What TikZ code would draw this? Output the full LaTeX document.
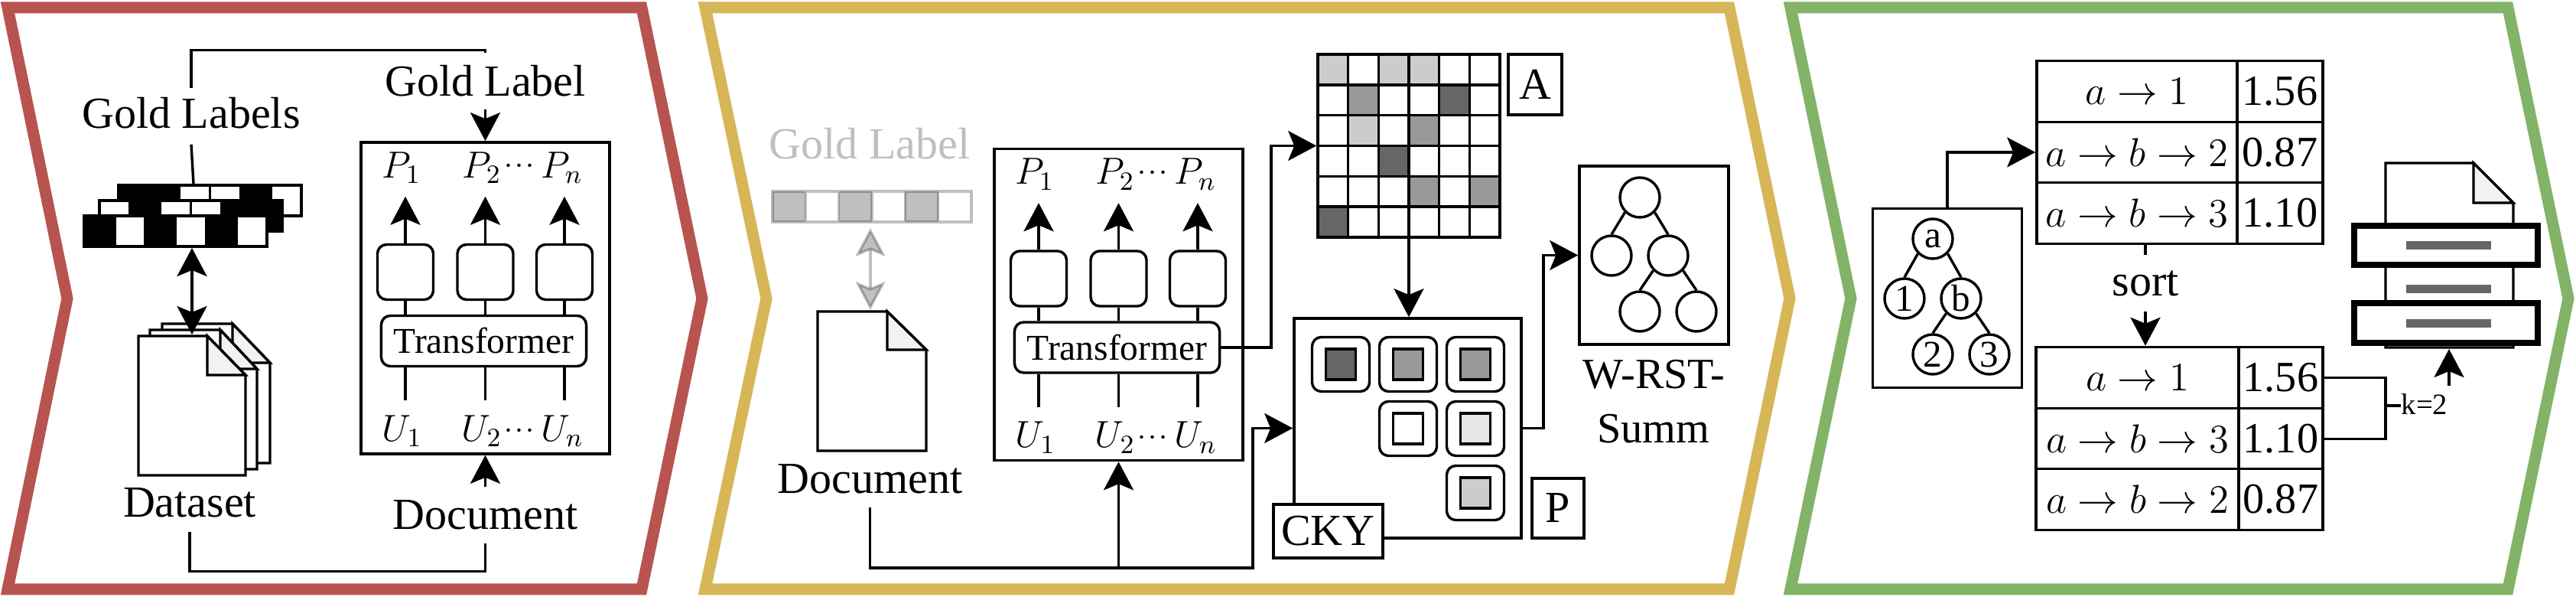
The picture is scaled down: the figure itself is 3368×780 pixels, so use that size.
\documentclass[tikz,border=0pt]{standalone}
\usepackage[no-math]{fontspec}
\usepackage{fix-cm}
\setmainfont{Liberation Serif}
\usetikzlibrary{arrows.meta}

\definecolor{panelred}{HTML}{B85450}
\definecolor{panelyellow}{HTML}{D6B656}
\definecolor{panelgreen}{HTML}{82B366}
\definecolor{pagefold}{HTML}{F2F2F2}
\definecolor{shadelight}{HTML}{CCCCCC}
\definecolor{shademid}{HTML}{999999}
\definecolor{shadedark}{HTML}{666666}
\definecolor{shadefaint}{HTML}{E6E6E6}

\tikzset{
	>={Stealth[length=.37cm,width=.39cm,inset=.08cm]},
	panel/.style={line width=.15cm, miter limit=10},
	wire/.style={line width=.034cm},
	framebox/.style={draw, line width=.034cm, fill=white, inner sep=0pt},
	softbox/.style={framebox, rounded corners=.12cm},
	word/.style={inner sep=0pt, font=\fontsize{16.5}{20.2}\selectfont, align=center},
	symbol/.style={inner sep=0pt, font=\fontsize{14}{16}\selectfont},
	dots/.style={inner sep=0pt, font=\fontsize{8}{8}\selectfont\boldmath},
	leaf/.style={framebox, circle, minimum size=.52cm, font=\fontsize{14}{16}\selectfont},
	ghost/.style={opacity=.25},
}

% Page with a folded corner: left, top, right, bottom, fold x, fold y
\newcommand{\drawpage}[6]{
	\draw[wire, fill=white] (#1, #2) -- (#5, #2) -- (#3, #6) -- (#3, #4) -- (#1, #4) -- cycle;
	\draw[wire, fill=pagefold] (#5, #2) -- (#5, #6) -- (#3, #6) -- cycle;
}

% Row of six cells: left x, top y, cell width, cell height, fills
\newcommand{\drawbits}[5]{
	\foreach \tone [count=\i from 0] in {#5} {
		\draw[wire, fill=\tone] ({#1+\i*#3}, #2) rectangle ++(#3, #4);
	}
}

% Encoder block, prefix for its node names and an offset
\newcommand{\encoderblock}[3]{
	\begin{scope}[shift={(#2, #3)}]
		\node[framebox, minimum width=3.25cm, minimum height=4.07cm] (#1box) at (634.5, 389.5) {};
		\node[softbox, minimum width=2.68cm, minimum height=.66cm, font=\fontsize{13.5}{16}\selectfont] (#1core) at (632.5, 445.5) {Transformer};
		\node[softbox, minimum width=.73cm, minimum height=.72cm] (#1a) at (530, 355.5) {};
		\node[softbox, minimum width=.73cm, minimum height=.72cm] (#1b) at (634.5, 355.5) {};
		\node[softbox, minimum width=.73cm, minimum height=.72cm] (#1c) at (738, 355.5) {};
		\node[symbol] (#1pa) at (525, 219) {$P_1$};
		\node[symbol] (#1pb) at (630, 219) {$P_2$};
		\node[dots] (#1pd) at (679, 217) {$\cdots$};
		\node[symbol] (#1pn) at (735, 219) {$P_n$};
		\node[symbol] (#1ua) at (526, 563) {$U_1$};
		\node[symbol] (#1ub) at (630, 563) {$U_2$};
		\node[dots] (#1ud) at (679, 563) {$\cdots$};
		\node[symbol] (#1un) at (735, 563) {$U_n$};
		\foreach \n in {a, b, c} {
			\draw[wire, ->] (#1\n.north) -- ++(0, -61);
			\draw[wire] (#1\n.south) -- (#1\n.south |- #1core.north);
			\draw[wire] (#1\n.south |- #1core.south) -- ++(0, 43);
		}
	\end{scope}
}

\begin{document}
\begin{tikzpicture}[x=.01cm, y=-.01cm]
	\useasboundingbox (0, 0) rectangle (3368, 780);

	% Panels:
	\draw[panel, panelred] (10, 10) -- (839, 10) -- (918, 390) -- (839, 770) -- (10, 770) -- (88, 390) -- cycle;
	\draw[panel, panelyellow] (922, 10) -- (2261, 10) -- (2340, 390) -- (2261, 770) -- (922, 770) -- (1002, 390) -- cycle;
	\draw[panel, panelgreen] (2341, 10) -- (3279, 10) -- (3358, 390) -- (3279, 770) -- (2341, 770) -- (2420, 390) -- cycle;

	% Left panel, nodes:
	\drawbits{155}{242}{39.8}{40}{black, black, white, white, black, white}
	\drawbits{130}{262}{39.8}{40}{white, black, white, white, black, black}
	\drawbits{110}{282}{39.8}{40}{black, white, black, white, black, white}
	\drawpage{212}{423}{353}{605}{304}{474}
	\drawpage{196}{431}{336}{613}{288}{482}
	\drawpage{181}{439}{321}{621}{271}{490}
	\encoderblock{enc}{0}{0}
	\node[word, minimum height=.8cm] (goldlabels) at (250, 148) {Gold Labels};
	\node[word, minimum height=.73cm] (goldlabel) at (634.5, 106) {Gold Label};
	\node[word, minimum height=.74cm] (dataset) at (248, 657) {Dataset};
	\node[word, minimum height=.72cm] (document) at (634.5, 673) {Document};
	\coordinate (stacktop) at (253, 240);
	\coordinate (stackfoot) at (251, 324);
	\coordinate (pagetop) at (251, 437);

	% Left panel, lines:
	\draw[wire] (goldlabels.south) -- (stacktop);
	\draw[wire] ([yshift=-.08cm]goldlabels.north) -- ++(0, -50) -| (goldlabel.north);
	\draw[wire, ->] (goldlabel.south) -- (goldlabel.south |- encbox.north);
	\draw[wire, <->] (stackfoot) -- (pagetop);
	\draw[wire] (dataset.south) -- ++(0, 52) -| (document.south);
	\draw[wire, ->] (document.north) -- (document.north |- encbox.south);

	% Middle panel, nodes:
	\node[word, text=gray!50] (ghostlabel) at (1137, 188) {Gold Label};
	\foreach \i in {0, 2, 4} {
		\fill[ghost] ({1010+\i*43.33}, 250) rectangle ++(43.33, 40);
	}
	\draw[wire, ghost] (1010, 250) rectangle (1270, 290)
		(1053.33, 250) -- ++(0, 40) (1096.67, 250) -- ++(0, 40) (1140, 250) -- ++(0, 40)
		(1183.33, 250) -- ++(0, 40) (1226.67, 250) -- ++(0, 40);
	\coordinate (ghostbar) at (1138, 298);
	\coordinate (docktop) at (1138, 405);
	\drawpage{1069}{407}{1211}{589}{1160}{457}
	\node[word, minimum height=.72cm] (docb) at (1137.5, 626) {Document};
	\encoderblock{dec}{828}{8.5}

	\node[framebox, minimum width=2.38cm, minimum height=2.39cm] (amatrix) at (1842, 190.5) {};
	\foreach \c/\r/\tone in {0/0/shadelight, 2/0/shadelight, 3/0/shadelight,
			1/1/shademid, 4/1/shadedark, 1/2/shadelight, 3/2/shademid,
			2/3/shadedark, 3/4/shademid, 5/4/shademid, 0/5/shadedark} {
		\fill[\tone] ({1723+\c*39.67}, {71+\r*39.83}) rectangle ++(39.67, 39.83);
	}
	\draw[wire] (1723, 71) rectangle (1961, 310);
	\foreach \i in {1, ..., 5} {
		\draw[wire] ({1723+\i*39.67}, 71) -- ++(0, 239);
		\draw[wire] (1723, {71+\i*39.83}) -- ++(238, 0);
	}
	\node[framebox, minimum width=.7cm, minimum height=.79cm, font=\fontsize{16.5}{20}\selectfont] (alabel) at (2007, 110.5) {A};

	\node[framebox, minimum width=2.97cm, minimum height=2.87cm] (pbox) at (1840.5, 559.5) {};
	\foreach \x/\y/\tone in {1753/476/shadedark, 1841/476/shademid, 1929/476/shademid,
			1841/560/white, 1929/560/shadefaint, 1929/644/shadelight} {
		\node[softbox, minimum width=.75cm, minimum height=.71cm] at (\x, \y) {};
		\node[framebox, fill=\tone, minimum width=.39cm, minimum height=.4cm] at (\x, \y) {};
	}
	\node[framebox, minimum width=1.43cm, minimum height=.7cm, font=\fontsize{16.5}{20}\selectfont] (cky) at (1736.5, 694) {CKY};
	\node[framebox, minimum width=.68cm, minimum height=.78cm, font=\fontsize{16.5}{20}\selectfont] (plabel) at (2037, 664) {P};

	\node[framebox, minimum width=1.95cm, minimum height=2.33cm] (treebox) at (2162.5, 333.5) {};
	\node[leaf] (ra) at (2144, 258) {};
	\node[leaf] (rb) at (2107, 334) {};
	\node[leaf] (rc) at (2181, 334) {};
	\node[leaf] (rd) at (2144, 407) {};
	\node[leaf] (re) at (2218, 407) {};
	\node[word, font=\fontsize{16}{20.2}\selectfont] (summ) at (2162, 525) {W-RST-\\Summ};
	\coordinate (docbend) at (1638, 742);
	\coordinate (docjoin) at (1462.5, 742);
	\coordinate (coreup) at (1662, 190.5);
	\coordinate (treeup) at (2018, 333.5);

	% Middle panel, lines:
	\draw[wire, ghost, <->] (ghostbar) -- (docktop);
	\draw[wire, ->] (docb.south) |- (docbend) |- (pbox.west);
	\draw[wire, ->] (docjoin) -- (decbox.south);
	\draw[wire, ->] (deccore.east) -| (coreup) -- (amatrix.west);
	\draw[wire, ->] (amatrix.south) -- (amatrix.south |- pbox.north);
	\draw[wire, ->] (pbox.east) -| (treeup) -- (treebox.west);
	\draw[wire] (ra.south west) -- (rb.north);
	\draw[wire] (ra.south east) -- (rc.north);
	\draw[wire] (rc.south west) -- (rd.north);
	\draw[wire] (rc.south east) -- (re.north);

	% Right panel, nodes:
	\node[framebox, minimum width=1.95cm, minimum height=2.34cm] (gtree) at (2546, 389.5) {};
	\node[leaf] (ta) at (2527, 312) {a};
	\node[leaf] (tb) at (2490, 390) {1};
	\node[leaf] (tc) at (2564, 390) {b};
	\node[leaf] (td) at (2527, 463) {2};
	\node[leaf] (te) at (2601, 463) {3};

	\foreach \i/\y/\route/\score in {1/119.5/a \to 1/1.56, 2/199/a \to b \to 2/0.87, 3/278.5/a \to b \to 3/1.10} {
		\node[framebox, minimum width=2.62cm, minimum height=.795cm, font=\fontsize{15}{18}\selectfont] (rank\i) at (2794, \y) {$\route$};
		\node[framebox, minimum width=1.12cm, minimum height=.795cm, font=\fontsize{16}{18}\selectfont] (score\i) at (2981, \y) {\score};
	}
	\foreach \i/\y/\route/\score in {1/493.5/a \to 1/1.56, 2/573.5/a \to b \to 3/1.10, 3/652.5/a \to b \to 2/0.87} {
		\node[framebox, minimum width=2.65cm, minimum height=.8cm, font=\fontsize{15}{18}\selectfont] (top\i) at (2794.5, \y) {$\route$};
		\node[framebox, minimum width=1.1cm, minimum height=.8cm, font=\fontsize{16}{18}\selectfont] (best\i) at (2982, \y) {\score};
	}
	\node[word, minimum height=.72cm] (sortlabel) at (2805, 370) {sort};
	\node[inner sep=0pt, font=\fontsize{11}{13}\selectfont] (klabel) at (3170, 528) {k=2};
	\coordinate (kjoin) at (3119, 530);
	\coordinate (printin) at (3202, 504);
	\coordinate (paperfoot) at (3202, 456);

	\drawpage{3119}{213}{3286}{454}{3234}{265}
	\node[framebox, line width=.08cm, minimum width=2.4cm, minimum height=.51cm] (upperbar) at (3198, 320.5) {};
	\node[framebox, line width=.08cm, minimum width=2.4cm, minimum height=.52cm] (lowerbar) at (3198, 422) {};
	\fill[shadedark] (3146, 315) rectangle (3257, 326);
	\fill[shadedark] (3146, 372) rectangle (3257, 383);
	\fill[shadedark] (3146, 417) rectangle (3257, 428);

	% Right panel, lines:
	\draw[wire] (ta.south west) -- (tb.north);
	\draw[wire] (ta.south east) -- (tc.north);
	\draw[wire] (tc.south west) -- (td.north);
	\draw[wire] (tc.south east) -- (te.north);
	\draw[wire, ->] (gtree.north) |- (rank2.west);
	\draw[wire] (rank3.south -| sortlabel) -- (sortlabel.north);
	\draw[wire, ->] (sortlabel.south) -- (sortlabel.south |- top1.north);
	\draw[wire] (best1.east) -| (kjoin) |- (best2.east);
	\draw[wire] (kjoin) -- (klabel.west |- kjoin);
	\draw[wire, ->] (printin) -- (paperfoot);
\end{tikzpicture}
\end{document}
